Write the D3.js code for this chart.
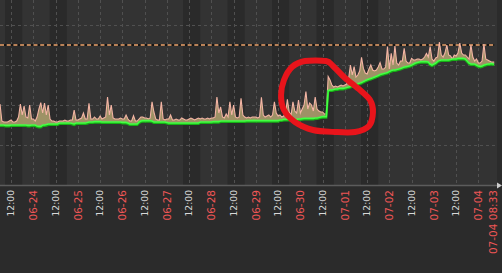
<!DOCTYPE html>
<html>
<head>
<meta charset="utf-8">
<script src="https://cdn.jsdelivr.net/npm/d3@7"></script>
<style>
  html, body { margin: 0; padding: 0; background: #2b2b2b; overflow: hidden; }
  svg { display: block; }
</style>
</head>
<body>
<svg id="chart"></svg>
<script>
// sampled hourly from 2022-06-23 06:00, last sample 07-04 08:33
const startTime = new Date(2022, 5, 23, 6, 0);
const endTime = new Date(2022, 6, 4, 8, 33);

// lower line (green)
const greenMin = [
  30, 30, 30, 29.8, 29.8, 29.8, 30, 30, 30, 30, 30, 30, 30, 30, 30, 29.8, 29.8, 30,                          // 06-23
  30, 30, 29.5, 29.3, 29.3, 30, 30, 30.2, 30.5, 30.5, 30.5, 30.5, 30.5, 30.5, 31, 31, 31, 31, 31, 31, 31, 30.8, 30.5, 31, // 06-24
  31, 31, 31, 31, 31, 31.2, 31.5, 31.5, 31.5, 31.7, 31.7, 31.7, 31.7, 31.5, 31.5, 31.5, 31.5, 31.5, 31.5, 31.5, 31.5, 31.5, 31.5, 31.5, // 06-25
  31.3, 31.3, 31.3, 31, 30.5, 30.5, 30.5, 30.5, 30.5, 31.5, 32, 32.2, 32.2, 32.2, 32.2, 32.2, 32, 31.5, 31.5, 31.5, 31.5, 31.5, 31.5, 31.5, // 06-26
  31.3, 31, 31, 31, 31, 31, 31, 31, 31, 31, 31, 31, 31, 31, 31, 31, 31, 31, 31.5, 31.5, 31.5, 31.5, 31.5, 31.5, // 06-27
  31.5, 31.7, 31.7, 31.7, 31.7, 32, 32, 32, 32, 32, 32, 32, 32, 32, 32, 32, 32, 32, 32, 32.2, 32.2, 32.2, 32.2, 32.3, // 06-28
  32.2, 32.2, 32.2, 32.2, 32.2, 32.2, 32.2, 32.2, 32.2, 32.2, 32.2, 32.2, 32.2, 32.5, 32.5, 32.8, 32.8, 32.8, 32.8, 32.8, 32.8, 32.8, 32.8, 33, // 06-29
  33, 33.2, 33.3, 33.3, 33.3, 33.3, 33.3, 33.3, 33.5, 33.5, 33.8, 34, 34.2, 34.2, 34.2, 47.3, 47.5, 47.5, 47.8, 48, 48, 48.3, 48.3, 48.3, // 06-30
  48.5, 48.8, 49, 49.3, 49.6, 50, 50.3, 50.6, 51, 51.3, 51.8, 52.2, 52.6, 53, 53.3, 53.6, 54, 54.4, 54.8, 55.2, 55.5, 55.8, 56, 56.3, // 07-01
  56.8, 57.2, 57.5, 57.5, 57.8, 58, 58.3, 58.6, 59, 59.2, 59.4, 59.6, 60, 60.5, 61, 61.3, 61.5, 61.7, 61.7, 61.7, 61.7, 61.5, 60.5, 60, // 07-02
  60.5, 61, 61.8, 62.3, 62.5, 62.5, 62.5, 62.5, 62.5, 62.8, 63, 63, 63, 63.3, 63.3, 63.3, 63.3, 63, 62, 61, 60.5, 60.5, 60.5, 60, // 07-03
  59.5, 59.3, 59.5, 60, 60.3, 60.5, 60.5, 60.8, 60.5, 60.5                                                      // 07-04
];

// upper line (pink spikes)
const pinkMax = [
  40.5, 32, 31.5, 31.5, 31.5, 32, 32.5, 31.5, 31.5, 32, 34, 40.5, 35, 39.5, 34, 33.5, 40, 33,
  33, 32, 34, 38, 41.2, 36, 41, 35, 40, 33, 32, 32, 31.5, 31.5, 32, 32, 32, 32.5, 32, 32, 32.5, 32.5, 37.5, 32.5,
  32.5, 33, 33.5, 36, 33, 33, 40.8, 33, 33, 34, 33, 33, 34.5, 33, 33.5, 34, 44, 35, 40, 33.5, 33, 33, 33, 33.5,
  33, 33, 35, 33, 32, 32, 34.7, 32, 32, 33, 34, 34, 33.5, 33.5, 33, 33.5, 41.6, 36.5, 33, 32.5, 32.5, 41.6, 33, 32.5,
  33, 33, 35, 32.5, 32.5, 33, 32.5, 32.5, 33.5, 33, 32.5, 32.5, 33, 33.5, 33, 32.5, 33, 33.5, 33, 33.5, 33, 33, 33.5, 33,
  33.5, 33.5, 34, 44, 36, 39, 34, 33.5, 35.5, 34, 41.6, 35, 40, 34, 33.5, 34, 43.3, 35, 34, 33.5, 34, 33.5, 34, 34,
  34, 33.5, 34, 43.8, 35, 34, 34.5, 35, 34, 35, 41.6, 36, 34.5, 35, 34, 34.5, 36, 42.8, 36.5, 35, 41.6, 37, 36, 42.5,
  36, 38, 40, 46.7, 38, 41, 40, 37, 44, 38, 37, 36.5, 36.5, 35.5, 35.5, 54.2, 52.5, 50, 49, 49.5, 49, 49.5, 50, 49.5,
  50, 50.5, 53, 60, 55, 59.2, 54, 55, 57, 63.8, 58.3, 56, 55.5, 58, 60, 57.5, 57, 57.5, 59, 61.2, 58, 58, 59, 69.2,
  58, 65.8, 60, 69.5, 61, 60, 62, 62, 68.3, 62, 61, 61, 63.3, 62.5, 62.5, 63, 63, 62.5, 63, 64, 65.8, 64, 69.2, 63,
  62, 63.5, 64, 71.5, 65, 64, 66, 70, 65, 64.5, 63, 65, 64.5, 66, 71, 66, 65, 65, 64, 63, 70, 64, 62, 63,
  61, 61, 62, 70.5, 63, 62.5, 62, 61.5, 61.5, 61.5
];

// shaded office hours on weekdays
const workDays = ['2022-06-23', '2022-06-24', '2022-06-27', '2022-06-28', '2022-06-29', '2022-06-30', '2022-07-01'];
const workStart = 8.75, workEnd = 18;

const limitValue = 70;
const gridValues = [20, 40, 60, 80];

// hand drawn circle round the jump, in data coordinates
const circleTimes = ['06-30 13:50', '06-30 17:35', '07-01 00:05', '07-01 08:10', '07-01 13:35', '07-01 15:10',
  '07-01 13:00', '07-01 05:30', '06-30 18:40', '06-30 06:50', '06-29 21:05', '06-29 15:10', '06-29 13:35',
  '06-29 15:10', '06-29 19:30', '06-30 02:30'];
const circleValues = [62, 59.5, 53.5, 47.5, 42.5, 36.5, 29.5, 26.5, 26.5, 27.5, 31.5, 37.5, 45, 52.5, 59, 62];

const W = 502, H = 273;
const plotW = 497, plotH = 185;

const svg = d3.select('#chart').attr('width', W).attr('height', H);

svg.append('rect').attr('width', W).attr('height', H).attr('fill', '#2b2b2b');
svg.append('rect').attr('width', plotW).attr('height', plotH).attr('fill', '#333333');

const x = d3.scaleTime().domain([startTime, endTime]).range([0, 494.2]);
const y = d3.scaleLinear().domain([0, 92.5]).range([plotH, 0]);

const times = greenMin.map((d, i) => i === greenMin.length - 1 ? endTime : d3.timeHour.offset(startTime, i));
const data = times.map((t, i) => ({ t, lo: greenMin[i], hi: pinkMax[i] }));

const parseDay = d3.timeParse('%Y-%m-%d');
svg.append('g').selectAll('rect')
    .data(workDays)
  .enter().append('rect')
    .attr('x', d => x(d3.timeMinute.offset(parseDay(d), workStart * 60)))
    .attr('width', d => x(d3.timeMinute.offset(parseDay(d), workEnd * 60)) - x(d3.timeMinute.offset(parseDay(d), workStart * 60)))
    .attr('y', 0)
    .attr('height', plotH)
    .attr('fill', '#2a2a2a');

const ticks = x.ticks(d3.timeHour.every(12));

// grid
const grid = svg.append('g').attr('stroke', '#505050').attr('stroke-dasharray', '3,3').attr('stroke-width', 1);
grid.selectAll('.v').data(ticks).enter().append('line')
    .attr('x1', d => Math.round(x(d)) + 0.5).attr('x2', d => Math.round(x(d)) + 0.5)
    .attr('y1', 0).attr('y2', plotH);
grid.selectAll('.h').data(gridValues).enter().append('line')
    .attr('x1', 0).attr('x2', plotW)
    .attr('y1', d => Math.round(y(d)) + 0.5).attr('y2', d => Math.round(y(d)) + 0.5);

// limit line
svg.append('line')
    .attr('x1', 0).attr('x2', x(endTime))
    .attr('y1', y(limitValue)).attr('y2', y(limitValue))
    .attr('stroke', '#151515').attr('stroke-width', 2);
svg.append('line')
    .attr('x1', 0).attr('x2', x(endTime))
    .attr('y1', y(limitValue)).attr('y2', y(limitValue))
    .attr('stroke', '#b98258').attr('stroke-width', 2).attr('stroke-dasharray', '4,2.7');

// band between lines
svg.append('path')
    .datum(data)
    .attr('d', d3.area().x(d => x(d.t)).y0(d => y(d.lo)).y1(d => y(d.hi)))
    .attr('fill', '#aa9c6c')
    .attr('fill-opacity', 0.9);

svg.append('path')
    .datum(data)
    .attr('d', d3.line().x(d => x(d.t)).y(d => y(d.hi)))
    .attr('fill', 'none')
    .attr('stroke', '#f4b4a4')
    .attr('stroke-width', 1.1);

// green line with darker edge
svg.append('path')
    .datum(data)
    .attr('d', d3.line().x(d => x(d.t)).y(d => y(d.lo)))
    .attr('transform', 'translate(0,1)')
    .attr('fill', 'none')
    .attr('stroke', '#16b016')
    .attr('stroke-width', 2.2);
svg.append('path')
    .datum(data)
    .attr('d', d3.line().x(d => x(d.t)).y(d => y(d.lo)))
    .attr('fill', 'none')
    .attr('stroke', '#44ff44')
    .attr('stroke-width', 1.6);

// annotation
const parseCircle = d3.timeParse('%Y-%m-%d %H:%M');
svg.append('path')
    .datum(circleTimes.map((t, i) => [x(parseCircle('2022-' + t)), y(circleValues[i])]))
    .attr('d', d3.line().curve(d3.curveCardinalClosed.tension(0.1)))
    .attr('fill', 'none')
    .attr('stroke', '#e8141b')
    .attr('stroke-width', 6)
    .attr('stroke-linejoin', 'round');

// x axis
svg.append('line')
    .attr('x1', 0).attr('x2', 499)
    .attr('y1', plotH + 0.5).attr('y2', plotH + 0.5)
    .attr('stroke', '#5c5c5c').attr('stroke-width', 1.5);
svg.append('path')
    .attr('d', 'M497,182.5L502,185.5L497,188.5Z')
    .attr('fill', '#cccccc');

const labels = svg.append('g').attr('font-family', 'DejaVu Sans, sans-serif');
labels.selectAll('text')
    .data(ticks)
  .enter().append('text')
    .attr('transform', d => 'translate(' + x(d) + ',' + (plotH + 5) + ') rotate(-90)')
    .attr('text-anchor', 'end')
    .attr('dy', '0.35em')
    .attr('font-size', d => d.getHours() === 0 ? 10.5 : 9.2)
    .attr('fill', d => d.getHours() === 0 ? '#ef5656' : '#d8d8d8')
    .text(d => d.getHours() === 0 ? d3.timeFormat('%m-%d')(d) : d3.timeFormat('%H:%M')(d));

labels.append('text')
    .attr('transform', 'translate(' + (x(endTime) - 1) + ',' + (plotH + 5) + ') rotate(-90)')
    .attr('text-anchor', 'end')
    .attr('dy', '0.35em')
    .attr('font-size', 10.5)
    .attr('fill', '#ef5656')
    .text(d3.timeFormat('%m-%d %H:%M')(endTime));
</script>
</body>
</html>
